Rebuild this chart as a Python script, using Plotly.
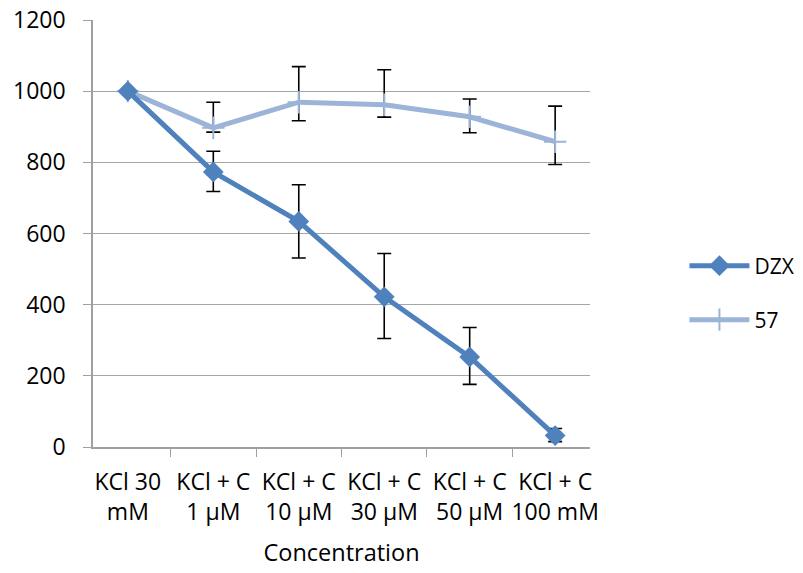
import plotly.graph_objects as go

categories = ["KCl 30<br>mM", "KCl + C<br>1 µM", "KCl + C<br>10 µM", "KCl + C<br>30 µM", "KCl + C<br>50 µM", "KCl + C<br>100 mM"]
dzx = [1000, 773, 634, 422, 253, 32]
dzx_err_plus = [0, 58, 103, 122, 83, 20]
dzx_err_minus = [0, 55, 103, 117, 77, 17]
s57 = [1000, 897, 969, 962, 928, 858]
s57_err_plus = [0, 72, 100, 98, 50, 100]
s57_err_minus = [0, 12, 52, 35, 45, 64]
y_ticks = [0, 200, 400, 600, 800, 1000, 1200]

c_dzx = "#4F81BD"
c_57 = "#9BB4D8"
font = "Open Sans, Liberation Sans, sans-serif"

fig = go.Figure()
fig.add_trace(go.Scatter(
    x=categories, y=s57, name="57", mode="lines+markers",
    line=dict(color=c_57, width=5),
    marker=dict(symbol="cross-thin", size=16, line=dict(color=c_57, width=2)),
    error_y=dict(type="data", array=s57_err_plus, arrayminus=s57_err_minus,
                 color="black", thickness=1.6, width=7),
    legend="legend2",
))
fig.add_trace(go.Scatter(
    x=categories, y=dzx, name="DZX", mode="lines+markers",
    line=dict(color=c_dzx, width=5),
    marker=dict(symbol="diamond", size=16, color=c_dzx),
    error_y=dict(type="data", array=dzx_err_plus, arrayminus=dzx_err_minus,
                 color="black", thickness=1.6, width=7),
    legend="legend",
))

fig.update_layout(
    width=803, height=573,
    margin=dict(l=93, r=213, t=20, b=126, autoexpand=False),
    paper_bgcolor="white", plot_bgcolor="white",
    font=dict(family=font, size=22, color="black"),
    showlegend=True,
    legend=dict(x=1.19, y=(447 - 266) / 427, xanchor="left", yanchor="middle",
                itemwidth=60, font=dict(size=21), bgcolor="rgba(0,0,0,0)"),
    legend2=dict(x=1.19, y=(447 - 320) / 427, xanchor="left", yanchor="middle",
                 itemwidth=60, font=dict(size=21), bgcolor="rgba(0,0,0,0)"),
    xaxis=dict(
        type="category", tickson="boundaries", ticks="outside", ticklen=8,
        tickcolor="#A0A0A0", showline=True, linecolor="#A0A0A0", linewidth=1.5,
        showgrid=False, tickfont=dict(size=23), ticklabelstandoff=14,
        tickangle=0, automargin=False, ticklabeloverflow="allow",
        title=dict(text="Concentration", font=dict(size=23.5), standoff=18),
    ),
    yaxis=dict(
        range=[0, 1200], tickvals=y_ticks, ticks="outside", ticklen=8,
        tickcolor="#A0A0A0", showline=True, linecolor="#A0A0A0", linewidth=1.5,
        showgrid=True, gridcolor="#A6A6A6", gridwidth=1.2, zeroline=False,
        tickfont=dict(size=23), ticklabelstandoff=13, automargin=False,
        ticklabeloverflow="allow",
    ),
)

fig.write_html(
    "out.html",
    config={"displayModeBar": False},
    post_script="document.body.style.margin='0';document.body.style.padding='0';",
)
